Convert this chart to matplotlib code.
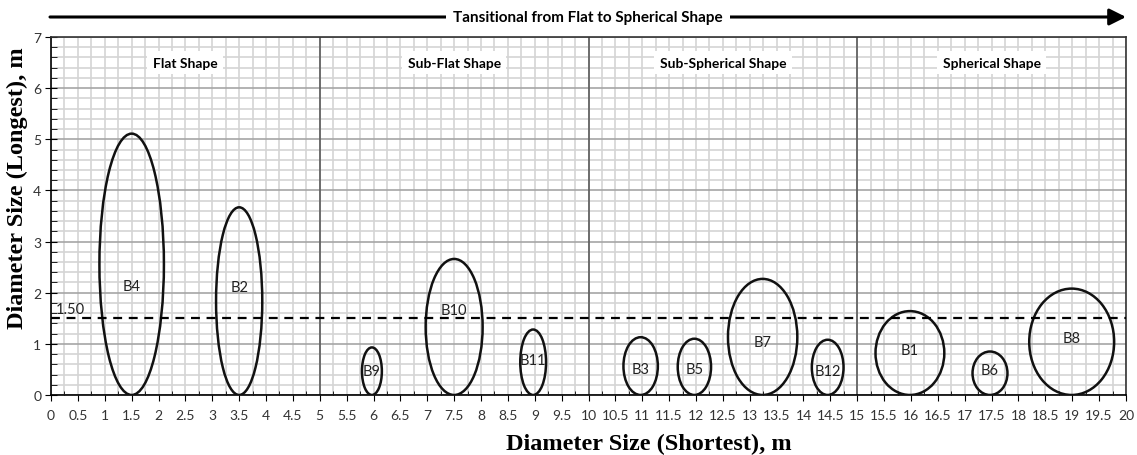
import numpy as np
import matplotlib
matplotlib.use('Agg')
import matplotlib.pyplot as plt
from matplotlib.patches import Ellipse, FancyArrowPatch
from matplotlib.ticker import MultipleLocator, FuncFormatter

# boulder data (m)
names = ['B4', 'B2', 'B9', 'B10', 'B11', 'B3', 'B5', 'B7', 'B12', 'B1', 'B6', 'B8']
shortest_centre = [1.5, 3.5, 5.97, 7.5, 8.97, 10.97, 11.97, 13.24, 14.45, 15.98, 17.47, 18.99]
shortest_width = [1.2, 0.86, 0.37, 1.06, 0.48, 0.64, 0.62, 1.29, 0.59, 1.28, 0.65, 1.58]
longest = [5.11, 3.67, 0.93, 2.66, 1.28, 1.13, 1.10, 2.27, 1.08, 1.64, 0.85, 2.08]
label_y = [2.14, 2.12, 0.47, 1.67, 0.68, 0.5, 0.5, 1.03, 0.47, 0.88, 0.48, 1.11]

zones = ['Flat Shape', 'Sub-Flat Shape', 'Sub-Spherical Shape', 'Spherical Shape']
zone_centre = [2.5, 7.5, 12.5, 17.5]
zone_edges = [5, 10, 15]
threshold = 1.5

tick_font = 'Lato'
serif = 'Liberation Serif'

fig = plt.figure(figsize=(11.37, 4.56), dpi=100)
ax = fig.add_axes([0.0449, 0.1316, 0.9454, 0.7851])

ax.set_xlim(0, 20)
ax.set_ylim(0, 7)

# grid
ax.xaxis.set_major_locator(MultipleLocator(0.5))
ax.xaxis.set_minor_locator(MultipleLocator(0.25))
ax.yaxis.set_major_locator(MultipleLocator(1))
ax.yaxis.set_minor_locator(MultipleLocator(0.2))
ax.grid(which='minor', color='#d4d4d4', lw=1.2)
ax.grid(which='major', axis='x', color='#d4d4d4', lw=1.2)
ax.grid(which='major', axis='y', color='#a6a6a6', lw=1.2)
ax.set_axisbelow(True)
for xe in zone_edges:
    ax.axvline(xe, color='#5a5a5a', lw=1.2, zorder=1)

ax.xaxis.set_major_formatter(FuncFormatter(lambda v, p: f'{v:g}'))
ax.tick_params(axis='x', which='major', direction='out', length=4, pad=6,
               labelsize=10, labelcolor='#333333')
ax.tick_params(axis='x', which='minor', direction='in', length=3)
ax.tick_params(axis='y', which='major', direction='inout', length=8, pad=3,
               labelsize=10, labelcolor='#333333')
ax.tick_params(axis='y', which='minor', direction='in', length=4)
for lab in ax.get_xticklabels() + ax.get_yticklabels():
    lab.set_fontfamily(tick_font)
for s in ax.spines.values():
    s.set_color('#333333')
    s.set_linewidth(1.2)
ax.spines['left'].set_color('black')
ax.spines['bottom'].set_color('black')

# ellipses
for n, cx, w, h, ly in zip(names, shortest_centre, shortest_width, longest, label_y):
    ax.add_patch(Ellipse((cx, h / 2), w, h, fill=False, ec='#111111', lw=1.8, zorder=3))
    ax.text(cx, ly, n, ha='center', va='center', fontsize=10.5, family=tick_font,
            color='#222222', zorder=4)

ax.axhline(threshold, color='black', lw=1.6, ls=(0, (4, 3)), zorder=3)
ax.text(0.08, threshold + 0.04, f'{threshold:.2f}', ha='left', va='bottom',
        fontsize=10.5, family=tick_font, color='#222222')

for z, zc in zip(zones, zone_centre):
    ax.text(zc, 6.5, z, ha='center', va='center', fontsize=10, family=tick_font,
            fontweight='bold', color='black', zorder=4,
            bbox=dict(fc='white', ec='none', pad=4))

ax.set_xlabel('Diameter Size (Shortest), m', fontsize=17.5, family=serif,
              fontweight='bold', va='center')
ax.set_ylabel('Diameter Size (Longest), m', fontsize=17.5, family=serif,
              fontweight='bold', va='center')
ax.xaxis.set_label_coords(0.556, -0.135)
ax.yaxis.set_label_coords(-0.031, 0.58)

# top arrow
fig.patches.append(FancyArrowPatch(
    (50 / 1137, 1 - 18 / 456), (1126 / 1137, 1 - 18 / 456), transform=fig.transFigure,
    arrowstyle='-|>,head_length=0.5,head_width=0.25', lw=2.2, color='black',
    mutation_scale=20, shrinkA=0, shrinkB=0))
fig.text(588 / 1137, 1 - 18 / 456, 'Tansitional from Flat to Spherical Shape',
         ha='center', va='center', fontsize=11, family=tick_font, fontweight='bold',
         bbox=dict(fc='white', ec='none', pad=5))

fig.savefig('out.png', dpi=100)
